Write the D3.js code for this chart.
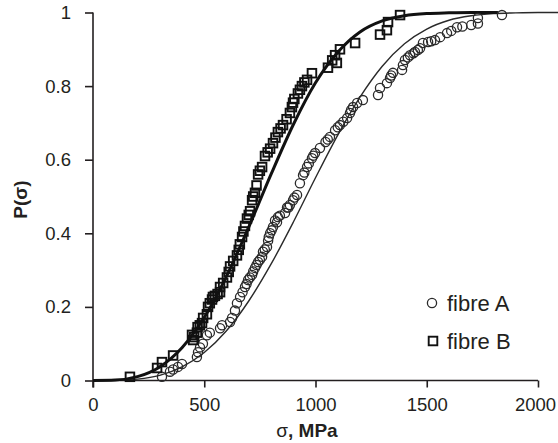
<!DOCTYPE html>
<html>
<head>
<meta charset="utf-8">
<script src="https://cdn.jsdelivr.net/npm/d3@7"></script>
<style>
  html, body { margin: 0; padding: 0; background: #fff; }
  svg { display: block; font-family: "Liberation Sans", Arial, sans-serif; }
</style>
</head>
<body>
<svg id="chart" width="558" height="443"></svg>
<script>
// fibre A measured points (circles)
const sigmaA = [310, 346, 360, 382, 400, 467, 472, 481, 494, 512, 525, 571, 580, 616, 625, 638, 647, 661,
  672, 683, 690, 697, 705, 715, 720, 728, 735, 742, 750, 760, 764, 772, 782, 787, 790, 796, 803, 809,
  818, 827, 831, 840, 863, 872, 878, 885, 899, 905, 917, 930, 944, 950, 962, 970, 984, 990, 998, 1020,
  1045, 1055, 1065, 1088, 1100, 1110, 1125, 1142, 1155, 1160, 1169, 1187, 1213, 1281, 1290, 1321, 1335,
  1340, 1348, 1389, 1393, 1402, 1415, 1425, 1440, 1447, 1460, 1470, 1483, 1506, 1520, 1537, 1560,
  1591, 1610, 1636, 1660, 1700, 1730, 1730, 1838];
const probA = [0.010, 0.024, 0.030, 0.037, 0.045, 0.064, 0.077, 0.090, 0.100, 0.123, 0.130, 0.142, 0.150,
  0.159, 0.170, 0.190, 0.210, 0.227, 0.240, 0.254, 0.262, 0.273, 0.280, 0.287, 0.296, 0.306, 0.314,
  0.322, 0.328, 0.336, 0.350, 0.356, 0.363, 0.380, 0.390, 0.400, 0.408, 0.417, 0.435, 0.430, 0.444,
  0.448, 0.455, 0.470, 0.470, 0.477, 0.490, 0.497, 0.504, 0.536, 0.558, 0.565, 0.580, 0.590, 0.604,
  0.611, 0.618, 0.632, 0.648, 0.655, 0.662, 0.680, 0.688, 0.694, 0.703, 0.713, 0.727, 0.735, 0.743,
  0.754, 0.762, 0.776, 0.795, 0.808, 0.822, 0.829, 0.836, 0.844, 0.857, 0.871, 0.878, 0.884, 0.889,
  0.893, 0.898, 0.903, 0.917, 0.920, 0.922, 0.925, 0.933, 0.944, 0.950, 0.960, 0.962, 0.966, 0.970,
  0.985, 0.993];

// fibre B measured points (squares)
const sigmaB = [166, 288, 310, 360, 445, 450, 455, 467, 470, 480, 490, 495, 512, 517, 525, 535, 548, 560,
  571, 539, 571, 585, 602, 610, 616, 630, 647, 655, 660, 670, 676, 683, 692, 700, 706, 715, 720, 728,
  735, 742, 750, 760, 773, 785, 796, 809, 820, 831, 843, 854, 870, 885, 894, 899, 905, 921, 930, 939,
  950, 962, 984, 1056, 1075, 1096, 1088, 1110, 1178, 1290, 1321, 1326, 1380];
const probB = [0.010, 0.034, 0.050, 0.068, 0.124, 0.110, 0.118, 0.130, 0.145, 0.150, 0.156, 0.170, 0.180,
  0.200, 0.210, 0.220, 0.230, 0.235, 0.240, 0.227, 0.254, 0.265, 0.280, 0.295, 0.310, 0.325, 0.340,
  0.355, 0.370, 0.390, 0.405, 0.420, 0.440, 0.450, 0.460, 0.490, 0.500, 0.510, 0.530, 0.560, 0.570,
  0.580, 0.610, 0.620, 0.630, 0.645, 0.660, 0.675, 0.685, 0.694, 0.710, 0.727, 0.743, 0.755, 0.765,
  0.780, 0.790, 0.800, 0.810, 0.817, 0.835, 0.850, 0.870, 0.863, 0.884, 0.900, 0.917, 0.940, 0.952,
  0.974, 0.993];

// fitted curves
const curveSigmaA = [0, 100, 200, 300, 400, 500, 600, 700, 800, 900, 1000, 1100, 1200, 1300, 1400, 1500,
  1600, 1700, 1800, 1900, 2000, 2090];
const curveA = [0, 0.0004, 0.0037, 0.014, 0.037, 0.076, 0.135, 0.216, 0.316, 0.430, 0.551, 0.667, 0.770,
  0.854, 0.915, 0.955, 0.979, 0.991, 0.997, 0.999, 1, 1];
const curveSigmaB = [0, 100, 200, 300, 400, 500, 600, 700, 800, 900, 1000, 1100, 1200, 1300, 1400, 1500,
  1600, 1700, 1820];
const curveB = [0, 0.0012, 0.0105, 0.037, 0.089, 0.171, 0.283, 0.417, 0.560, 0.695, 0.809, 0.892, 0.947,
  0.977, 0.991, 0.997, 0.999, 1, 1];

const xTicks = [0, 500, 1000, 1500, 2000];
const yTicks = [0, 0.2, 0.4, 0.6, 0.8, 1];
const yTickLabels = ['0', '0.2', '0.4', '0.6', '0.8', '1'];

const svg = d3.select('#chart');
const ink = '#231f20';

const x = d3.scaleLinear().domain([0, 2000]).range([93, 538]);
const y = d3.scaleLinear().domain([0, 1]).range([380.5, 12.5]);

// axes
const xAxis = svg.append('g')
  .attr('transform', `translate(0,${y(0)})`)
  .call(d3.axisBottom(x).tickValues(xTicks).tickSize(7).tickPadding(10).tickFormat(d3.format('d')));
const yAxis = svg.append('g')
  .attr('transform', `translate(${x(0)},0)`)
  .call(d3.axisLeft(y).tickValues(yTicks).tickSize(8).tickPadding(14).tickFormat((d, i) => yTickLabels[i]));

[xAxis, yAxis].forEach(g => {
  g.select('.domain').attr('stroke', ink).attr('stroke-width', 1.6);
  g.selectAll('.tick line').attr('stroke', ink).attr('stroke-width', 1.6);
  g.selectAll('.tick text').attr('fill', ink).style('font-size', '18.5px').style('font-family', '"Liberation Sans", Arial, sans-serif');
});
// last x label sits against the edge in the original
xAxis.selectAll('.tick text').filter(d => d === 2000).attr('x', -3);
// keep y axis line running down to the x tick
yAxis.select('.domain').attr('d', `M0,${y(1)}V${y(0) + 7}`);
xAxis.select('.domain').attr('d', `M0,0H${x(2000) - x(0)}`).attr('transform', `translate(${x(0)},0)`);

// fitted lines
const line = d3.line().x(d => x(d[0])).y(d => y(d[1])).curve(d3.curveMonotoneX);

svg.append('path')
  .datum(curveSigmaA.map((s, i) => [s, curveA[i]]))
  .attr('fill', 'none')
  .attr('stroke', '#2a2a2a')
  .attr('stroke-width', 1.4)
  .attr('d', line);

svg.append('path')
  .datum(curveSigmaB.map((s, i) => [s, curveB[i]]))
  .attr('fill', 'none')
  .attr('stroke', '#111')
  .attr('stroke-width', 3)
  .attr('d', line);

// circles, fibre A
svg.append('g').selectAll('circle')
  .data(sigmaA.map((s, i) => [s, probA[i]]))
  .join('circle')
  .attr('cx', d => x(d[0]))
  .attr('cy', d => y(d[1]))
  .attr('r', 4.6)
  .attr('fill', 'none')
  .attr('stroke', '#2a2a2a')
  .attr('stroke-width', 1.3);

// squares, fibre B
const sq = 8.6;
svg.append('g').selectAll('rect')
  .data(sigmaB.map((s, i) => [s, probB[i]]))
  .join('rect')
  .attr('x', d => x(d[0]) - sq / 2)
  .attr('y', d => y(d[1]) - sq / 2)
  .attr('width', sq)
  .attr('height', sq)
  .attr('fill', 'none')
  .attr('stroke', '#111')
  .attr('stroke-width', 1.9);

// axis titles
svg.append('text')
  .attr('transform', `translate(27,${(y(0) + y(1)) / 2 + 3}) rotate(-90)`)
  .attr('text-anchor', 'middle')
  .attr('fill', ink)
  .style('font-size', '19px')
  .style('font-weight', 'bold')
  .text('P(σ)');

svg.append('text')
  .attr('x', 307)
  .attr('y', 437)
  .attr('text-anchor', 'middle')
  .attr('fill', ink)
  .style('font-size', '19px')
  .call(t => {
    t.append('tspan').text('σ');
    t.append('tspan').style('font-weight', 'bold').text(', MPa');
  });

// legend
const legend = svg.append('g');
legend.append('circle')
  .attr('cx', 432).attr('cy', 303).attr('r', 4.6)
  .attr('fill', 'none').attr('stroke', '#2a2a2a').attr('stroke-width', 1.3);
legend.append('text')
  .attr('x', 447).attr('y', 311)
  .attr('fill', ink).style('font-size', '22px')
  .text('fibre A');
legend.append('rect')
  .attr('x', 433 - sq / 2).attr('y', 341 - sq / 2).attr('width', sq).attr('height', sq)
  .attr('fill', 'none').attr('stroke', '#111').attr('stroke-width', 1.9);
legend.append('text')
  .attr('x', 447).attr('y', 349)
  .attr('fill', ink).style('font-size', '22px')
  .text('fibre B');
</script>
</body>
</html>
